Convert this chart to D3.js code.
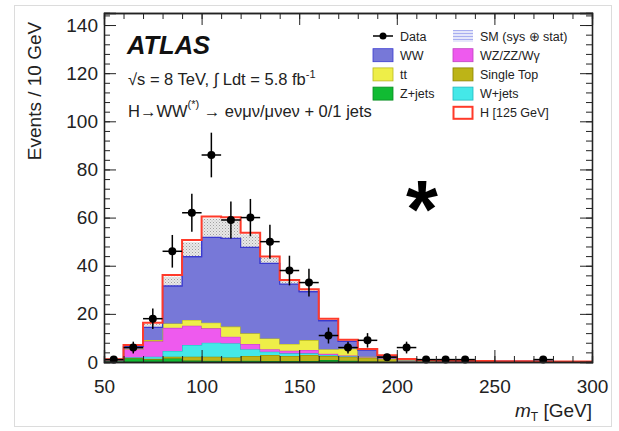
<!DOCTYPE html>
<html><head><meta charset="utf-8">
<script src="https://cdn.jsdelivr.net/npm/d3@7"></script>
<style>
html,body{margin:0;padding:0;background:#fff;}
svg{display:block;font-family:"Liberation Sans",Arial,Helvetica,sans-serif;}
</style></head>
<body><svg id="c" width="619" height="431"></svg>
<script>
// ---- data ----
const binLow = [50,60,70,80,90,100,110,120,130,140,150,160,170,180,190,200,210,220,230,240,250,260,270,280,290];
const binWidth = 10;
const zjets     = [0.3,1.6,1.0,1.5,0.6,0.5,0.4,0.5,0.4,0.4,0.4,0.8,0.5,0.2,0.1,0.05,0,0,0,0,0,0,0,0,0];
const singleTop = [0.1,0.2,0.3,0.7,1.6,1.7,1.5,2.0,2.5,2.1,2.5,1.7,1.7,1.6,1.4,0.3,0.2,0.15,0.1,0.05,0.05,0.05,0.05,0.03,0.03];
const wjets     = [0.1,0.2,0.9,2.4,4.9,5.8,5.9,2.8,1.4,1.1,0.7,0.4,0.2,0.1,0.1,0.05,0,0,0,0,0,0,0,0,0];
const wzzzwg    = [0.2,3.3,6.4,9.6,8.0,6.0,2.7,2.2,1.0,1.1,1.4,0.5,0.3,0.1,0.1,0.1,0.05,0.05,0.05,0.05,0.05,0.05,0.04,0.04,0.03];
const ttbar     = [0.0,0.2,0.5,1.8,2.4,2.3,4.2,4.4,4.5,2.8,4.1,1.9,2.8,0.2,0.2,0.1,0.1,0.1,0.05,0.05,0.03,0.03,0.03,0.03,0.02];
const ww        = [0.3,0.9,5.3,15.6,26.3,35.5,36.7,35.7,31.2,24.9,20.1,11.9,3.1,2.8,0.6,0.5,0.4,0.3,0.3,0.2,0.17,0.12,0.1,0.1,0.08];
const higgs     = [0.1,0.7,1.9,4.5,6.9,8.6,8.7,6.1,2.8,1.7,1.0,0.8,0.6,0.4,0.3,0.1,0.05,0.03,0.02,0.02,0.01,0.01,0.01,0.01,0.01];
const smUnc     = [0.1,0.5,1.4,3.8,6.0,7.8,7.8,5.4,2.3,1.3,0.7,0.6,0.4,0.3,0.2,0.1,0.05,0.03,0.02,0.02,0.01,0.01,0.01,0.01,0.01];
const dataCounts= [1,6,18,46,62,86,59,60,50,38,33,11,6,9,2,6,1,1,1,0,0,0,1,0,0];

const xMajorTicks = [50,100,150,200,250,300];
const yMajorTicks = [0,20,40,60,80,100,120,140];
const xMinorTicks = d3.range(50,301,10);
const yMinorTicks = d3.range(0,145,4);

const stackSeries = [
  {name:"Z+jets",     values:zjets,     fill:"#11bb33", line:"#0a8a22"},
  {name:"Single Top", values:singleTop, fill:"#bdb417", line:"#8a8200"},
  {name:"W+jets",     values:wjets,     fill:"#44e8e8", line:"#22b8c0"},
  {name:"WZ/ZZ/Wγ",   values:wzzzwg,    fill:"#ee5aee", line:"#c040c0"},
  {name:"tt",         values:ttbar,     fill:"#eeee48", line:"#b8b820"},
  {name:"WW",         values:ww,        fill:"#7778d8", line:"#3a3ad0"}
];

// ---- layout ----
const svg = d3.select("#c");
const L = 104, R = 592, T = 13, B = 362;
const x = d3.scaleLinear().domain([50,300]).range([L,R]);
const y = d3.scaleLinear().domain([0,145]).range([B,T]);

// outer light border
svg.append("rect").attr("x",14.5).attr("y",5.5).attr("width",597).attr("height",421)
  .attr("fill","none").attr("stroke","#dcdcdc").attr("stroke-width",1);

const defs = svg.append("defs");
defs.append("clipPath").attr("id","plotclip").append("rect")
  .attr("x",L).attr("y",T).attr("width",R-L).attr("height",B-T);
const pat = defs.append("pattern").attr("id","hatch").attr("patternUnits","userSpaceOnUse")
  .attr("width",3).attr("height",3);
pat.append("rect").attr("width",3).attr("height",3).attr("fill","#e8e8e8");
pat.append("rect").attr("width",1).attr("height",1).attr("fill","#a0a0a0");
pat.append("rect").attr("x",1.5).attr("y",1.5).attr("width",1).attr("height",1).attr("fill","#b8b8b8");
const pat2 = defs.append("pattern").attr("id","smleg").attr("patternUnits","userSpaceOnUse")
  .attr("width",3).attr("height",3);
pat2.append("rect").attr("width",3).attr("height",3).attr("fill","#e4e6fa");
pat2.append("rect").attr("width",3).attr("height",1).attr("fill","#a8aef0");

// step-histogram point builder
function stepPoints(lo, hi){
  const pts = binLow.map((b,i)=>({x:b, lo:lo[i], hi:hi[i]}));
  const n = binLow.length-1;
  pts.push({x:binLow[n]+binWidth, lo:lo[n], hi:hi[n]});
  return pts;
}
const area = d3.area().curve(d3.curveStepAfter)
  .x(d=>x(d.x)).y0(d=>y(d.lo)).y1(d=>y(d.hi));
const topLine = d3.line().curve(d3.curveStepAfter).x(d=>x(d.x)).y(d=>y(d.hi));

const plot = svg.append("g").attr("clip-path","url(#plotclip)");
let cum = binLow.map(()=>0);
stackSeries.forEach(s=>{
  const next = cum.map((c,i)=>c+s.values[i]);
  const pts = stepPoints(cum,next);
  plot.append("path").attr("d",area(pts)).attr("fill",s.fill).attr("stroke","none");
  plot.append("path").attr("d",topLine(pts)).attr("fill","none").attr("stroke",s.line).attr("stroke-width",1.2);
  cum = next;
});
const smTotal = cum.slice();
// uncertainty band (upper part)
const bandHi = smTotal.map((v,i)=>v+smUnc[i]);
plot.append("path").attr("d",area(stepPoints(smTotal,bandHi))).attr("fill","url(#hatch)");
plot.append("path").attr("d",topLine(stepPoints(smTotal,smTotal))).attr("fill","none")
  .attr("stroke","#3a3ad0").attr("stroke-width",1.2);
// SM + Higgs red outline
const withH = smTotal.map((v,i)=>v+higgs[i]);
plot.append("path").attr("d",topLine(stepPoints(withH,withH))).attr("fill","none")
  .attr("stroke","#ff3a2a").attr("stroke-width",2);

// data points
const dg = svg.append("g");
binLow.forEach((b,i)=>{
  const n = dataCounts[i];
  if(n<=0) return;
  const cx = x(b+binWidth/2), err = Math.sqrt(n);
  dg.append("line").attr("x1",x(b)).attr("x2",x(b+binWidth)).attr("y1",y(n)).attr("y2",y(n))
    .attr("stroke","#000").attr("stroke-width",1.5);
  dg.append("line").attr("x1",cx).attr("x2",cx).attr("y1",y(Math.min(n+err,145))).attr("y2",y(Math.max(n-err,0)))
    .attr("stroke","#000").attr("stroke-width",1.5);
  dg.append("circle").attr("cx",cx).attr("cy",y(n)).attr("r",4).attr("fill","#000");
});

// axes (ROOT style, ticks inside)
function styleAxis(g){ g.select(".domain").attr("stroke","#222").attr("stroke-width",1.3);
  g.selectAll(".tick line").attr("stroke","#222").attr("stroke-width",1); }
const fontSize = 19;
const gxb = svg.append("g").attr("transform",`translate(0,${B})`)
  .call(d3.axisBottom(x).tickValues(xMajorTicks).tickSize(-12).tickPadding(18).tickFormat(d3.format("d")));
styleAxis(gxb);
gxb.selectAll(".tick text").attr("font-size",fontSize).attr("fill","#222").attr("font-family","Liberation Sans, Arial, sans-serif");
svg.append("g").attr("transform",`translate(0,${B})`)
  .call(d3.axisBottom(x).tickValues(xMinorTicks).tickSize(-6).tickFormat("")).call(styleAxis);
svg.append("g").attr("transform",`translate(0,${T})`)
  .call(d3.axisTop(x).tickValues(xMajorTicks).tickSize(-12).tickFormat("")).call(styleAxis);
svg.append("g").attr("transform",`translate(0,${T})`)
  .call(d3.axisTop(x).tickValues(xMinorTicks).tickSize(-6).tickFormat("")).call(styleAxis);
const gyl = svg.append("g").attr("transform",`translate(${L},0)`)
  .call(d3.axisLeft(y).tickValues(yMajorTicks).tickSize(-12).tickPadding(6).tickFormat(d3.format("d")));
styleAxis(gyl);
gyl.selectAll(".tick text").attr("font-size",fontSize).attr("fill","#222").attr("font-family","Liberation Sans, Arial, sans-serif")
  .attr("x",-6);
svg.append("g").attr("transform",`translate(${L},0)`)
  .call(d3.axisLeft(y).tickValues(yMinorTicks).tickSize(-6).tickFormat("")).call(styleAxis);
svg.append("g").attr("transform",`translate(${R},0)`)
  .call(d3.axisRight(y).tickValues(yMajorTicks).tickSize(-12).tickFormat("")).call(styleAxis);
svg.append("g").attr("transform",`translate(${R},0)`)
  .call(d3.axisRight(y).tickValues(yMinorTicks).tickSize(-6).tickFormat("")).call(styleAxis);

// axis titles
svg.append("text").attr("transform","translate(41,91) rotate(-90)").attr("text-anchor","middle")
  .attr("font-size",fontSize).attr("fill","#222").text("Events / 10 GeV");
const xt = svg.append("text").attr("x",R).attr("y",417).attr("text-anchor","end")
  .attr("font-size",fontSize).attr("fill","#222");
xt.append("tspan").attr("font-style","italic").text("m");
xt.append("tspan").attr("font-size",12).attr("dy",4).text("T");
xt.append("tspan").attr("dy",-4).text(" [GeV]");

// ATLAS labels
svg.append("text").attr("x",127).attr("y",54).attr("font-size",25.5).attr("font-weight","bold")
  .attr("font-style","italic").attr("fill","#111").text("ATLAS");
const l1 = svg.append("text").attr("x",128).attr("y",85).attr("font-size",16.5).attr("fill","#222");
l1.append("tspan").text("√s = 8 TeV, ∫ Ldt = 5.8 fb");
l1.append("tspan").attr("font-size",11).attr("dy",-7).text("-1");
const l2 = svg.append("text").attr("x",128).attr("y",117).attr("font-size",16.5).attr("fill","#222");
l2.append("tspan").text("H→WW");
l2.append("tspan").attr("font-size",11).attr("dy",-9).text("(*)");
l2.append("tspan").attr("dy",9).text(" → eνμν/μνeν + 0/1 jets");

// legend
const legendCol1 = ["Data","WW","tt","Z+jets"];
const legendCol2 = ["SM (sys ⊕ stat)","WZ/ZZ/Wγ","Single Top","W+jets","H [125 GeV]"];
const fillOf = Object.fromEntries(stackSeries.map(s=>[s.name,s]));
const lg = svg.append("g").attr("font-size",12.5).attr("fill","#222");
function legendSym(xb, yc, name){
  if(name==="Data"){
    lg.append("line").attr("x1",xb).attr("x2",xb+20).attr("y1",yc).attr("y2",yc).attr("stroke","#000").attr("stroke-width",1.5);
    lg.append("circle").attr("cx",xb+10).attr("cy",yc).attr("r",3.5).attr("fill","#000");
  } else if(name.startsWith("SM")){
    lg.append("rect").attr("x",xb).attr("y",yc-6).attr("width",20).attr("height",12).attr("fill","url(#smleg)");
  } else if(name.startsWith("H ")){
    lg.append("rect").attr("x",xb+0.5).attr("y",yc-6).attr("width",19).attr("height",12).attr("fill","#fff")
      .attr("stroke","#ff3a2a").attr("stroke-width",2);
  } else {
    const s = fillOf[name];
    lg.append("rect").attr("x",xb).attr("y",yc-6.5).attr("width",20).attr("height",13).attr("fill",s.fill)
      .attr("stroke",s.line).attr("stroke-width",0.8);
  }
}
legendCol1.forEach((n,i)=>{ const yc = 36+i*19.2; legendSym(373,yc,n);
  lg.append("text").attr("x",400).attr("y",yc+4.5).text(n); });
legendCol2.forEach((n,i)=>{ const yc = 36+i*19.2; legendSym(453,yc,n);
  lg.append("text").attr("x",480).attr("y",yc+4.5).text(n); });

// annotation asterisk
svg.append("text").attr("x",422).attr("y",237).attr("text-anchor","middle").attr("font-size",82)
  .attr("font-weight","bold").attr("fill","#000").text("*");
</script></body></html>
